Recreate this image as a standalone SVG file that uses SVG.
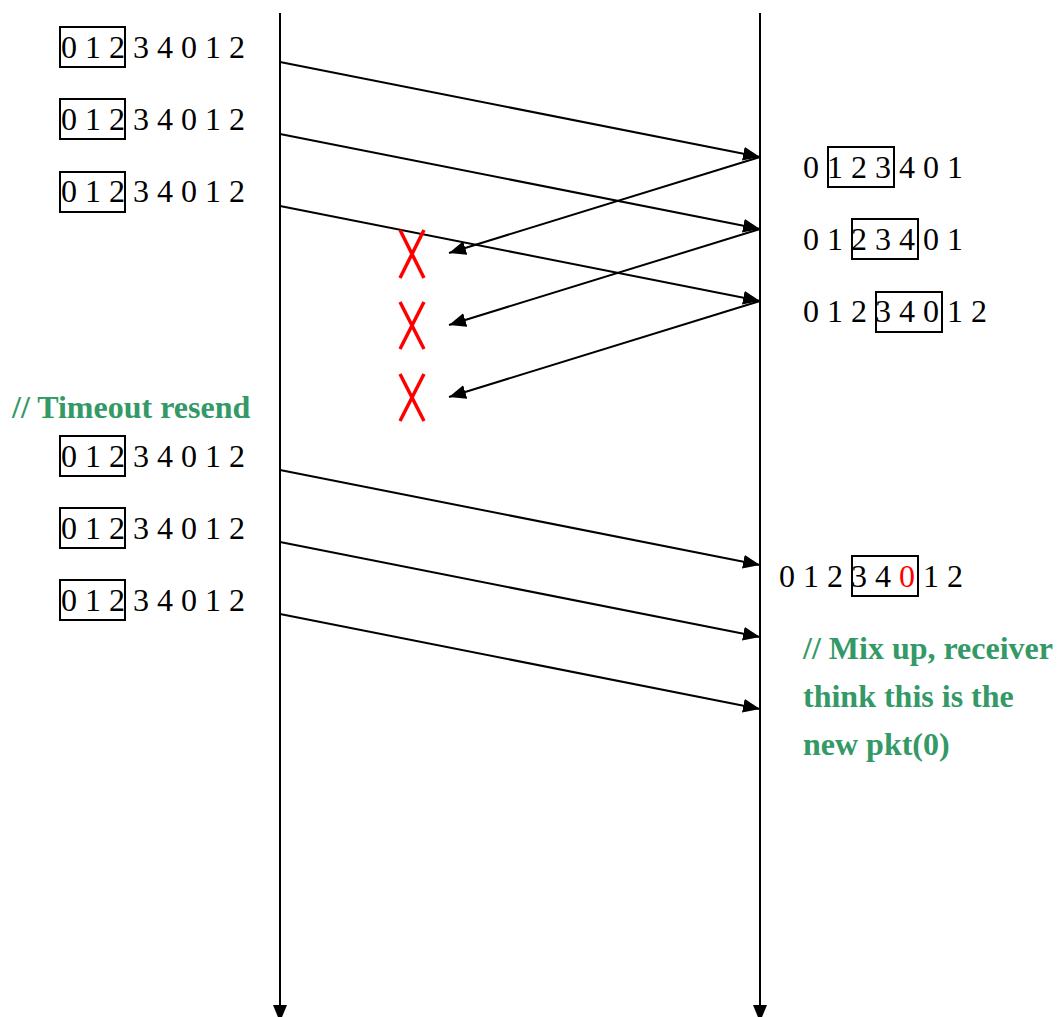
<svg xmlns="http://www.w3.org/2000/svg" width="1058" height="1017" viewBox="0 0 1058 1017">
<style>
.seq{font-family:"Liberation Serif","Times New Roman",serif;font-size:32px;fill:#000}
.note{font-family:"Liberation Serif","Times New Roman",serif;font-size:32px;font-weight:bold;fill:#339966}
.box{fill:none;stroke:#000;stroke-width:2}
.ln{stroke:#000;stroke-width:2;fill:none;marker-end:url(#ah)}
.x{stroke:#ff0000;stroke-width:3.5;fill:none}
</style>
<defs>
<marker id="ah" markerUnits="userSpaceOnUse" markerWidth="20" markerHeight="16" refX="17" refY="7" orient="auto">
<path d="M0,0 L17,7 L0,14 z" fill="#000"/>
</marker>
</defs>
<g id="lifelines">
<line class="ln" x1="280" y1="13" x2="280" y2="1022"/>
<line class="ln" x1="760" y1="13" x2="760" y2="1022"/>
</g>
<g id="connectors">
<line class="ln" x1="280" y1="62" x2="760" y2="157"/>
<line class="ln" x1="280" y1="134" x2="760" y2="229"/>
<line class="ln" x1="280" y1="206" x2="760" y2="301"/>
<line class="ln" x1="760" y1="157" x2="449" y2="253"/>
<line class="ln" x1="760" y1="229" x2="449" y2="325"/>
<line class="ln" x1="760" y1="301" x2="449" y2="397"/>
<line class="ln" x1="280" y1="470" x2="760" y2="565"/>
<line class="ln" x1="280" y1="542" x2="760" y2="637"/>
<line class="ln" x1="280" y1="614" x2="760" y2="709"/>
</g>
<g id="losses">
<path class="x" d="M400,230 L424,278 M424,230 L400,278"/>
<path class="x" d="M400,302 L424,349 M424,302 L400,349"/>
<path class="x" d="M400,374 L424,421 M424,374 L400,421"/>
</g>
<g id="sender1"><rect class="box" x="60" y="27" width="65" height="40"/><text class="seq" x="61" y="58">0 1 2 3 4 0 1 2</text></g>
<g id="sender2"><rect class="box" x="60" y="99" width="65" height="40"/><text class="seq" x="61" y="130">0 1 2 3 4 0 1 2</text></g>
<g id="sender3"><rect class="box" x="60" y="172" width="65" height="40"/><text class="seq" x="61" y="202">0 1 2 3 4 0 1 2</text></g>
<g id="timeout-note"><text class="note" x="12" y="418">// Timeout resend</text></g>
<g id="sender4"><rect class="box" x="60" y="436" width="65" height="40"/><text class="seq" x="61" y="467">0 1 2 3 4 0 1 2</text></g>
<g id="sender5"><rect class="box" x="60" y="508" width="65" height="40"/><text class="seq" x="61" y="539">0 1 2 3 4 0 1 2</text></g>
<g id="sender6"><rect class="box" x="60" y="580" width="65" height="40"/><text class="seq" x="61" y="611">0 1 2 3 4 0 1 2</text></g>
<g id="receiver1"><rect class="box" x="828" y="147" width="66" height="40"/><text class="seq" x="803" y="178">0 1 2 3 4 0 1</text></g>
<g id="receiver2"><rect class="box" x="852" y="219" width="66" height="40"/><text class="seq" x="803" y="250">0 1 2 3 4 0 1</text></g>
<g id="receiver3"><rect class="box" x="876" y="292" width="66" height="40"/><text class="seq" x="803" y="322">0 1 2 3 4 0 1 2</text></g>
<g id="receiver4"><rect class="box" x="852" y="556" width="66" height="40"/><text class="seq" x="779" y="587">0 1 2 3 4 <tspan fill="#ff0000">0</tspan> 1 2</text></g>
<g id="mixup-note">
<text class="note" x="803" y="659">// Mix up, receiver</text>
<text class="note" x="803" y="707">think this is the</text>
<text class="note" x="803" y="755">new pkt(0)</text>
</g>
</svg>
